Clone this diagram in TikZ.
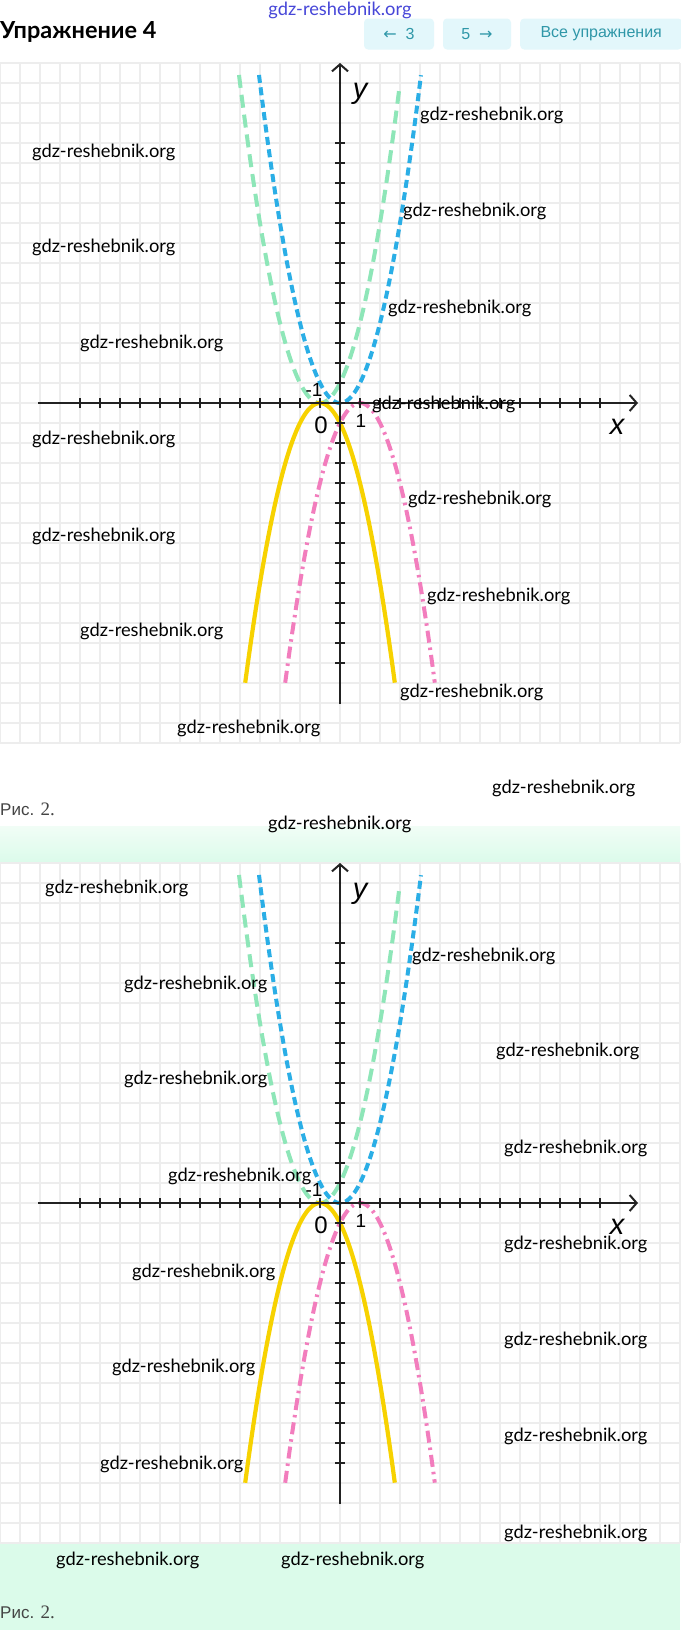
\documentclass[tikz,border=0pt]{standalone}
\usepackage{fontspec}
\setmainfont{Lato}
\newfontfamily\lab{Liberation Sans}
\newfontfamily\arr{DejaVu Sans}
\newfontfamily\capser{Liberation Serif}
\definecolor{gridc}{HTML}{EDEDED}
\definecolor{axc}{HTML}{222222}
\definecolor{cgreen}{HTML}{8EE6B8}
\definecolor{cblue}{HTML}{2AAEE6}
\definecolor{cyellow}{HTML}{F7D200}
\definecolor{cpink}{HTML}{F27DBD}
\definecolor{btnfill}{HTML}{E3F7FB}
\definecolor{btntext}{HTML}{2F97A8}
\definecolor{mint}{HTML}{DBFBEA}
\definecolor{mintlight}{HTML}{F1FDF6}
\definecolor{wmblue}{HTML}{4646D8}
\definecolor{capc}{HTML}{444444}
\tikzset{
  gridline/.style={gridc, line width=1.1pt},
  axisline/.style={axc, line width=2pt, -{Straight Barb[length=7pt,width=16pt,line width=2pt]}},
  tick/.style={axc, line width=2pt},
  wm/.style={anchor=west, inner sep=0pt, font=\fontsize{18.3}{21}\selectfont, text=black},
  btn/.style={fill=btnfill, rounded corners=4pt, inner sep=0pt, text=btntext, font=\lab\fontsize{16}{18}\selectfont, minimum height=31pt},
  numlab/.style={inner sep=0pt, font=\lab\fontsize{24}{26}\selectfont},
  varlab/.style={inner sep=0pt, font=\lab\itshape\fontsize{29}{32}\selectfont},
  capt/.style={anchor=west, inner sep=0pt, text=capc, font=\lab\fontsize{17}{19}\selectfont},
  cg/.style={cgreen, line width=4pt, dash pattern=on 13pt off 7pt},
  cb/.style={cblue, line width=4pt, dash pattern=on 8pt off 4.5pt},
  cy/.style={cyellow, line width=4.2pt},
  cp/.style={cpink, line width=4pt, dash pattern=on 12pt off 5pt on 2.5pt off 5pt},
}
\usetikzlibrary{arrows.meta}
\begin{document}
\begin{tikzpicture}[x=1pt,y=-1pt]
\useasboundingbox (0,0) rectangle (680,1630);
\fill[white] (0,0) rectangle (680,1630);
% mint band
\shade[top color=mintlight, bottom color=mint] (0,826) rectangle (680,863);
\fill[mint] (0,1543) rectangle (680,1630);
% header
\node[anchor=west, inner sep=0pt, font=\bfseries\fontsize{23.5}{26}\selectfont] (title) at (0,32) {Упражнение 4};
\node[btn, minimum width=70pt] (prev) at (399,34) {{\arr←}\ \ 3};
\node[btn, minimum width=68pt] (next) at (477,34) {5\ \ {\arr→}};
\node[btn, minimum width=162pt, anchor=west] (all) at (520,34) {Все упражнения};
\node[inner sep=0pt, text=wmblue, font=\fontsize{18.3}{20}\selectfont] (wmtop) at (340,10) {gdz-reshebnik.org};
% two charts
\foreach \off/\nm in {0/a,800/b}{
\begin{scope}[yshift=-\off pt]
  \foreach \i in {0,...,34} \draw[gridline] (\i*20,63) -- (\i*20,743);
  \foreach \j in {0,...,34} \draw[gridline] (0,63+\j*20) -- (680,63+\j*20);
  \begin{scope}[shift={(340pt,-403pt)}, x=20pt, y=20pt]
    \draw[cg] plot[domain=-5.05:2.95, samples=120, smooth] (\x,{(\x+1)^2});
    \draw[cb] plot[domain=-4.05:4.05, samples=120, smooth] (\x,{(\x)^2});
    \draw[cy] plot[domain=-4.74:2.74, samples=120, smooth] (\x,{-(\x+1)^2});
    \draw[cp] plot[domain=-2.74:4.74, samples=120, smooth] (\x,{-(\x-1)^2});
  \end{scope}
  \coordinate (xs\nm) at (38,403);
  \coordinate (xe\nm) at (638,403);
  \coordinate (ys\nm) at (340,704);
  \coordinate (ye\nm) at (340,63);
  \draw[axisline] (xs\nm) -- (xe\nm);
  \draw[axisline] (ys\nm) -- (ye\nm);
  \foreach \k in {-13,...,-1,1,2,...,13}{
    \draw[tick] (340+\k*20,398) -- (340+\k*20,408);
    \draw[tick] (335,403-\k*20) -- (345,403-\k*20);
  }
  \node[numlab] (zero\nm) at (321,425) {0};
  \node[numlab, font=\lab\fontsize{19}{22}\selectfont] (m1\nm) at (314,390) {-1};
  \node[numlab, font=\lab\fontsize{19}{22}\selectfont] (one\nm) at (361,421) {1};
  \node[varlab] (xl\nm) at (617,427) {x};
  \node[varlab] (yl\nm) at (360,94) {y};
\end{scope}
}
% captions
\node[capt] (cap1) at (0,809) {Рис. {\capser\fontsize{19}{20}\selectfont 2.}};
\node[capt] (cap2) at (0,1612) {Рис. {\capser\fontsize{19}{20}\selectfont 2.}};
% watermarks
\node[wm] (w1) at (420,115) {gdz-reshebnik.org};
\node[wm] (w2) at (32,152) {gdz-reshebnik.org};
\node[wm] (w3) at (403,211) {gdz-reshebnik.org};
\node[wm] (w4) at (32,247) {gdz-reshebnik.org};
\node[wm] (w5) at (388,308) {gdz-reshebnik.org};
\node[wm] (w6) at (80,343) {gdz-reshebnik.org};
\node[wm] (w7) at (372,404) {gdz-reshebnik.org};
\node[wm] (w8) at (32,439) {gdz-reshebnik.org};
\node[wm] (w9) at (408,499) {gdz-reshebnik.org};
\node[wm] (w10) at (32,536) {gdz-reshebnik.org};
\node[wm] (w11) at (427,596) {gdz-reshebnik.org};
\node[wm] (w12) at (80,631) {gdz-reshebnik.org};
\node[wm] (w13) at (400,692) {gdz-reshebnik.org};
\node[wm] (w14) at (177,728) {gdz-reshebnik.org};
\node[wm] (w15) at (492,788) {gdz-reshebnik.org};
\node[wm] (w16) at (268,824) {gdz-reshebnik.org};
\node[wm] (w17) at (45,888) {gdz-reshebnik.org};
\node[wm] (w18) at (412,956) {gdz-reshebnik.org};
\node[wm] (w19) at (124,984) {gdz-reshebnik.org};
\node[wm] (w20) at (496,1051) {gdz-reshebnik.org};
\node[wm] (w21) at (124,1079) {gdz-reshebnik.org};
\node[wm] (w22) at (504,1148) {gdz-reshebnik.org};
\node[wm] (w23) at (168,1176) {gdz-reshebnik.org};
\node[wm] (w24) at (504,1244) {gdz-reshebnik.org};
\node[wm] (w25) at (132,1272) {gdz-reshebnik.org};
\node[wm] (w26) at (504,1340) {gdz-reshebnik.org};
\node[wm] (w27) at (112,1367) {gdz-reshebnik.org};
\node[wm] (w28) at (504,1436) {gdz-reshebnik.org};
\node[wm] (w29) at (100,1464) {gdz-reshebnik.org};
\node[wm] (w30) at (504,1533) {gdz-reshebnik.org};
\node[wm] (w31) at (56,1560) {gdz-reshebnik.org};
\node[wm] (w32) at (281,1560) {gdz-reshebnik.org};
\end{tikzpicture}
\end{document}
